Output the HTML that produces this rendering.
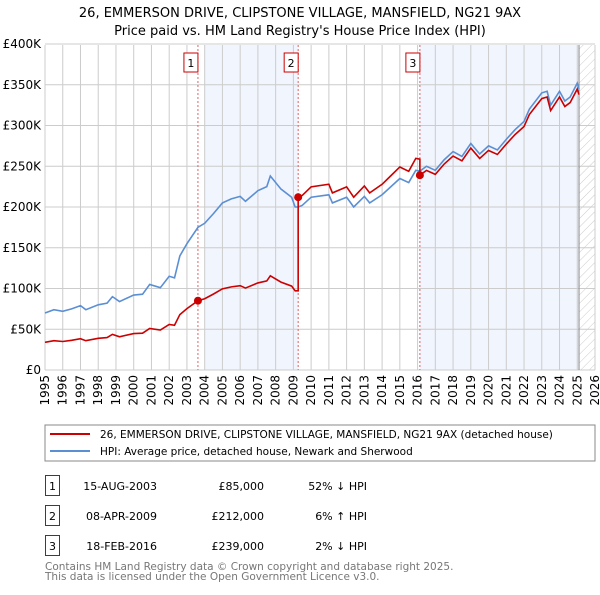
<!DOCTYPE html>
<html><head><meta charset="utf-8"><style>
body{margin:0;background:#fff;font-family:"Liberation Sans","DejaVu Sans",sans-serif;}
svg text{font-family:"DejaVu Sans","Liberation Sans",sans-serif;}
</style></head><body>
<svg id="c" width="600" height="590" xmlns="http://www.w3.org/2000/svg">
<defs><pattern id="hatch" width="6" height="6" patternUnits="userSpaceOnUse" patternTransform="rotate(45)"><line x1="0" y1="0" x2="0" y2="6" stroke="#ccc" stroke-width="1"/></pattern></defs>
<text x="300" y="17" text-anchor="middle" font-size="13">26, EMMERSON DRIVE, CLIPSTONE VILLAGE, MANSFIELD, NG21 9AX</text>
<text x="300" y="35" text-anchor="middle" font-size="13">Price paid vs. HM Land Registry's House Price Index (HPI)</text>
<g id="plot"></g>
<rect x="45" y="425" width="550" height="36" fill="#fff" stroke="#888"/>
<line x1="50" y1="434" x2="90" y2="434" stroke="#cc0000" stroke-width="2"/>
<text x="100" y="438" font-size="10.5">26, EMMERSON DRIVE, CLIPSTONE VILLAGE, MANSFIELD, NG21 9AX (detached house)</text>
<line x1="50" y1="451" x2="90" y2="451" stroke="#5b8fd4" stroke-width="2"/>
<text x="100" y="455" font-size="10.5">HPI: Average price, detached house, Newark and Sherwood</text>
<g font-size="11">
<rect x="45.5" y="475.5" width="14" height="20" fill="none" stroke="#c00"/><text x="52.5" y="490" text-anchor="middle">1</text>
<text x="157" y="490" text-anchor="end">15-AUG-2003</text><text x="264" y="490" text-anchor="end">£85,000</text><text x="367" y="490" text-anchor="end">52% ↓ HPI</text>
<rect x="45.5" y="505.5" width="14" height="20" fill="none" stroke="#c00"/><text x="52.5" y="520" text-anchor="middle">2</text>
<text x="157" y="520" text-anchor="end">08-APR-2009</text><text x="264" y="520" text-anchor="end">£212,000</text><text x="367" y="520" text-anchor="end">6% ↑ HPI</text>
<rect x="45.5" y="535.5" width="14" height="20" fill="none" stroke="#c00"/><text x="52.5" y="550" text-anchor="middle">3</text>
<text x="157" y="550" text-anchor="end">18-FEB-2016</text><text x="264" y="550" text-anchor="end">£239,000</text><text x="367" y="550" text-anchor="end">2% ↓ HPI</text>
</g>
<text x="45" y="570" font-size="10.5" fill="#777">Contains HM Land Registry data © Crown copyright and database right 2025.</text>
<text x="45" y="580" font-size="10.5" fill="#777">This data is licensed under the Open Government Licence v3.0.</text>
</svg>
<script>
const hpiYears=[1995,1995.5,1996,1996.5,1997,1997.3,1998,1998.5,1998.8,1999.2,2000,2000.5,2000.9,2001.5,2002,2002.3,2002.6,2003,2003.62,2004,2004.5,2005,2005.5,2006,2006.3,2007,2007.5,2007.7,2008.3,2008.9,2009.1,2009.27,2009.5,2010,2011,2011.2,2012,2012.4,2013,2013.3,2014,2014.5,2015,2015.5,2015.9,2016.13,2016.5,2017,2017.5,2018,2018.5,2019,2019.5,2020,2020.5,2021,2021.5,2022,2022.3,2023,2023.3,2023.5,2024,2024.3,2024.6,2025,2025.1];
const hpiValues=[70,74,72,75,79,74,80,82,90,84,92,93,105,101,115,113,140,155,175,180,192,205,210,213,207,220,225,238,222,212,200,200,202,212,215,205,212,200,213,205,215,225,235,230,245,244,250,245,258,268,262,278,265,275,270,283,295,305,320,340,342,325,342,330,335,352,345];
const saleYears=[2003.62,2009.27,2016.13];
const salePrices=[85,212,239];
const yTicks=[0,50,100,150,200,250,300,350,400];
const yTickLabels=["£0","£50K","£100K","£150K","£200K","£250K","£300K","£350K","£400K"];
const NS="http://www.w3.org/2000/svg";
const X=y=>45+(y-1995)*(550/31), Y=v=>370-v*(326/400);
const g=document.getElementById('plot');
function mk(t,a){const e=document.createElementNS(NS,t);for(const k in a)e.setAttribute(k,a[k]);g.appendChild(e);return e;}
let e;
e=mk('rect',{x:X(2004),y:45,width:X(2009.27)-X(2004),height:325,fill:'#eef3fc',opacity:0.8});

e=mk('rect',{x:X(saleYears[2]),y:45,width:X(2025.1)-X(saleYears[2]),height:325,fill:'#eef3fc',opacity:0.8});

e=mk('rect',{x:X(2025.1),y:45,width:X(2026)-X(2025.1),height:325,fill:'url(#hatch)'});

for(let yr=1995;yr<=2026;yr++){
 e=mk('line',{x1:X(yr),x2:X(yr),y1:45,y2:370,stroke:'#ccc','stroke-width':1});
 
 e=mk('text',{x:0,y:0,'font-size':12,'text-anchor':'end',transform:`translate(${X(yr)+4},375) rotate(-90)`});
 e.textContent=yr;
 
}
yTicks.forEach((v,i)=>{
 e=mk('line',{x1:45,x2:595,y1:Y(v),y2:Y(v),stroke:'#ccc','stroke-width':1});
 
 e=mk('text',{x:41,y:Y(v)+4,'font-size':12,'text-anchor':'end'});
 e.textContent=yTickLabels[i];
 
});
e=mk('line',{x1:X(2025.1),x2:X(2025.1),y1:45,y2:370,stroke:'#888','stroke-width':1});

saleYears.forEach((sy,i)=>{
 e=mk('line',{x1:X(sy),x2:X(sy),y1:45,y2:370,stroke:'#e06060','stroke-width':1,'stroke-dasharray':'2,2'});
 
 e=mk('rect',{x:X(sy)-14,y:53,width:14,height:19,fill:'#fff',stroke:'#c00'});
 
 e=mk('text',{x:X(sy)-7,y:67,'font-size':11,'text-anchor':'middle'});e.textContent=i+1;
 
});
function hpiAt(t){for(let i=1;i<hpiYears.length;i++){if(t<=hpiYears[i]){const f=(t-hpiYears[i-1])/(hpiYears[i]-hpiYears[i-1]);return hpiValues[i-1]+f*(hpiValues[i]-hpiValues[i-1]);}}return hpiValues[hpiValues.length-1];}
const hp=hpiYears.map((t,i)=>X(t)+','+Y(hpiValues[i])).join(' ');
e=mk('polyline',{points:hp,fill:'none',stroke:'#5b8fd4','stroke-width':1.6});

const rp=[];
hpiYears.forEach((t,i)=>{
 let k=0;while(k<saleYears.length-1&&t>=saleYears[k+1])k++;
 const r=salePrices[k]/hpiAt(saleYears[k]);
 if(i>0&&k>0&&hpiYears[i-1]<saleYears[k]){}
 rp.push(X(t)+','+Y(hpiValues[i]*r));
 if(k+1<saleYears.length&&i+1<hpiYears.length&&hpiYears[i+1]>=saleYears[k+1]&&t<saleYears[k+1]){
  rp.push(X(saleYears[k+1])+','+Y(hpiAt(saleYears[k+1])*r));
 }
});
e=mk('polyline',{points:rp.join(' '),fill:'none',stroke:'#cc0000','stroke-width':1.6});

saleYears.forEach((sy,i)=>{
 e=mk('circle',{cx:X(sy),cy:Y(salePrices[i]),r:4,fill:'#cc0000'});
 
});
</script>
</body></html>
